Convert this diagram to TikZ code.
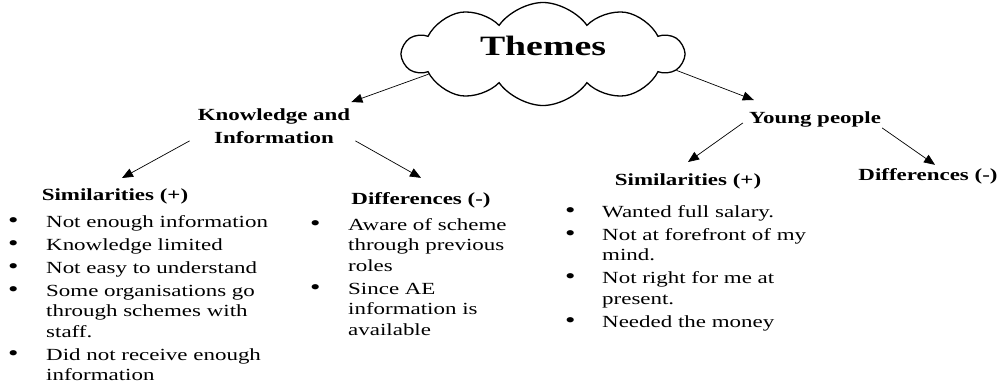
\documentclass[tikz,border=0pt]{standalone}
\usepackage{fontspec}
\setmainfont{Liberation Serif}[FakeStretch=1.35]
\usetikzlibrary{shapes.symbols,arrows.meta}
\newcommand{\bul}{{\fontsize{22}{24}\selectfont\textbullet}}

\begin{document}
\begin{tikzpicture}[x=1pt,y=-1pt,
cloudnode/.style={cloud, draw=black, line width=1.3pt, cloud puffs=10, cloud puff arc=110, aspect=3, minimum width=280pt, minimum height=103pt, inner sep=0pt, text depth=17pt, font=\fontsize{28}{30}\selectfont\bfseries},
headnode/.style={inner sep=1pt, align=center, font=\fontsize{17}{23}\selectfont\bfseries},
listnode/.style={inner sep=0pt, anchor=base west, font=\fontsize{17}{20.5}\selectfont},
arrowline/.style={-{Triangle[length=11pt,width=9pt]}, line width=0.7pt}
]
    \useasboundingbox (0,0) rectangle (1001,391);

    \node [cloudnode] (t1) at (543,54) {Themes};

    \node [headnode, anchor=north] (a1) at (274,107.5) {Knowledge and\\Information};
    \node [headnode, anchor=base] (a2) at (815,123) {Young people};

    \node [headnode, anchor=base] (b1) at (115,200) {Similarities (+)};
    \node [headnode, anchor=base] (b2) at (421,204) {Differences (-)};
    \node [headnode, anchor=base] (b3) at (688,185) {Similarities (+)};
    \node [headnode, anchor=base] (b4) at (928,180) {Differences (-)};

    \node [listnode] (c1) at (8,227) {\begin{tabular}[t]{@{}p{38pt}@{}p{240pt}@{}}
    \bul & Not enough information\\[2.5pt]
    \bul & Knowledge limited\\[2.5pt]
    \bul & Not easy to understand\\[2.5pt]
    \bul & Some organisations go\newline through schemes with\newline staff.\\[2.5pt]
    \bul & Did not receive enough\newline information
    \end{tabular}};
    \node [listnode] (c2) at (310,230) {\begin{tabular}[t]{@{}p{38pt}@{}p{170pt}@{}}
    \bul & Aware of scheme\newline through previous\newline roles\\[2.5pt]
    \bul & Since AE\newline information is\newline available
    \end{tabular}};
    \node [listnode] (c3) at (565,217) {\begin{tabular}[t]{@{}p{37pt}@{}p{230pt}@{}}
    \bul & Wanted full salary.\\[2.5pt]
    \bul & Not at forefront of my\newline mind.\\[2.5pt]
    \bul & Not right for me at\newline present.\\[2.5pt]
    \bul & Needed the money
    \end{tabular}};

    \draw [arrowline] (t1.190) -- ([yshift=5.5pt]a1.north east);
    \draw [arrowline] (t1.353) -- ([xshift=6pt,yshift=10pt]a2.north west);
    \draw [arrowline] ([xshift=-7pt,yshift=4pt]a1.south west) -- ([xshift=7pt,yshift=9pt]b1.north);
    \draw [arrowline] ([xshift=4pt,yshift=4pt]a1.south east) -- ([yshift=13pt]b2.north);
    \draw [arrowline] ([xshift=-5pt,yshift=-4pt]a2.west) -- ([yshift=10pt]b3.north);
    \draw [arrowline] (a2.south east) -- ([xshift=7pt,yshift=2pt]b4.north);
\end{tikzpicture}
\end{document}
